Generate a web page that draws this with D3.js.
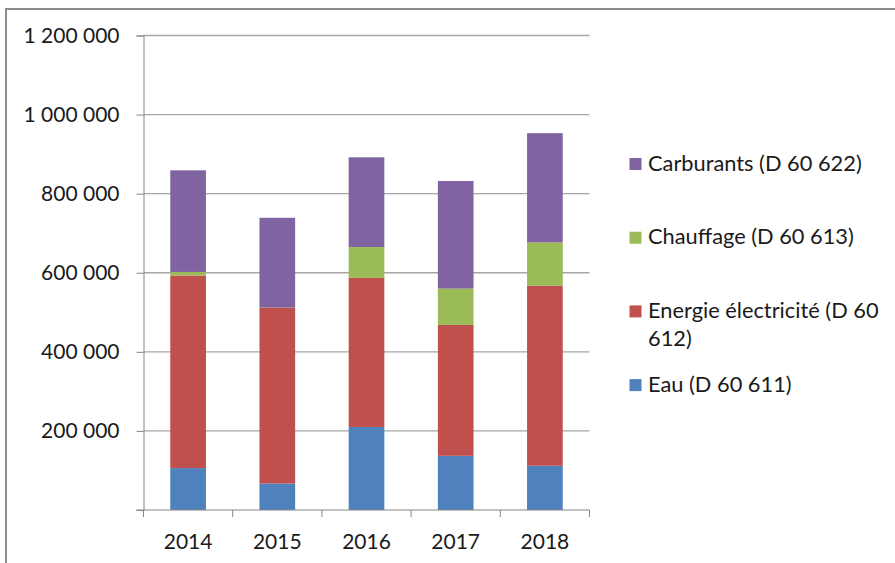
<!DOCTYPE html>
<html lang="fr">
  <head>
    <meta charset="utf-8">
    <title>Dépenses énergie 2014-2018</title>
    <script src="https://d3js.org/d3.v7.min.js"></script>
    <style>
      body { margin: 0; background: #fff; }
      svg text { font-family: Lato, "Open Sans", sans-serif; fill: #1a1a1a; }
    </style>
  </head>
  <body>
    <svg></svg>

    <script>
    // Données
    const annees = ['2014', '2015', '2016', '2017', '2018']
    const eau = [106000, 67000, 210000, 137000, 112000]
    const electricite = [487000, 445000, 377000, 331000, 455000]
    const chauffage = [9000, 0, 78000, 92000, 110000]
    const carburants = [257000, 227000, 227000, 272000, 276000]
    const yTicks = [0, 200000, 400000, 600000, 800000, 1000000, 1200000]

    const series = [
      { nom: 'Eau (D 60 611)', valeurs: eau, couleur: '#4f81bd' },
      { nom: 'Energie électricité (D 60 612)', valeurs: electricite, couleur: '#c0504d' },
      { nom: 'Chauffage (D 60 613)', valeurs: chauffage, couleur: '#9bbb59' },
      { nom: 'Carburants (D 60 622)', valeurs: carburants, couleur: '#8064a2' }
    ]

    const W = 895, H = 563
    const svg = d3.select('svg')
      .attr('width', W)
      .attr('height', H)

    // cadre du graphique
    svg.append('rect')
      .attr('x', 6).attr('y', 9)
      .attr('width', W + 10).attr('height', H + 10)
      .attr('fill', 'none')
      .attr('stroke', '#8c8c8c')
      .attr('stroke-width', 2)

    const x = d3.scaleBand()
      .domain(annees)
      .range([143.5, 589.5])
      .paddingInner(0.6)
      .paddingOuter(0.3)

    const y = d3.scaleLinear()
      .domain([0, 1200000])
      .range([510, 35.5])

    const fr = d3.formatLocale({ decimal: ',', thousands: ' ', grouping: [3], currency: ['', ''] })
    const fmt = fr.format(',')

    // quadrillage
    svg.append('g')
      .selectAll('line')
      .data(yTicks.slice(1))
      .join('line')
        .attr('x1', 143.5).attr('x2', 589.5)
        .attr('y1', d => y(d)).attr('y2', d => y(d))
        .attr('stroke', '#a6a6a6')
        .attr('stroke-width', 1.3)

    // empilement
    const table = annees.map((a, i) => {
      const row = { annee: a }
      series.forEach(s => { row[s.nom] = s.valeurs[i] })
      return row
    })
    const stack = d3.stack().keys(series.map(s => s.nom))(table)

    svg.append('g')
      .selectAll('g')
      .data(stack)
      .join('g')
        .attr('fill', (d, i) => series[i].couleur)
      .selectAll('rect')
      .data(d => d)
      .join('rect')
        .attr('x', d => x(d.data.annee))
        .attr('width', x.bandwidth())
        .attr('y', d => y(d[1]))
        .attr('height', d => y(d[0]) - y(d[1]))

    // axe Y (pas d'étiquette pour 0, comme dans l'original)
    const yAxis = svg.append('g')
      .attr('transform', 'translate(143.5,0)')
      .call(d3.axisLeft(y).tickValues(yTicks)
        .tickFormat(d => d === 0 ? '' : fmt(d))
        .tickSize(7).tickPadding(17))
    yAxis.select('.domain').attr('stroke', '#868686')
    yAxis.selectAll('.tick line').attr('stroke', '#868686')
    yAxis.selectAll('text')
      .attr('font-size', 21)
      .style('font-family', 'Lato, sans-serif')
      .attr('fill', '#1a1a1a')

    // axe X
    const bornes = annees.map(a => x(a) - x.step() * x.paddingInner() / 2)
    bornes.push(589.5)
    const xAxis = svg.append('g')
      .attr('transform', 'translate(0,510)')
    xAxis.append('line')
      .attr('x1', 136.5).attr('x2', 589.5)
      .attr('stroke', '#868686')
    xAxis.selectAll('line.tk')
      .data(bornes)
      .join('line')
        .attr('class', 'tk')
        .attr('x1', d => d).attr('x2', d => d)
        .attr('y1', 0).attr('y2', 7)
        .attr('stroke', '#868686')
    xAxis.selectAll('text')
      .data(annees)
      .join('text')
        .attr('x', d => x(d) + x.bandwidth() / 2)
        .attr('y', 39)
        .attr('text-anchor', 'middle')
        .attr('font-size', 21)
        .text(d => d)

    // légende
    const legende = series.slice().reverse()
    const lg = svg.append('g')
    legende.forEach((s, i) => {
      const by = 170.5 + i * 73.7
      lg.append('rect')
        .attr('x', 629.5).attr('y', by - 12.5)
        .attr('width', 12).attr('height', 12)
        .attr('fill', s.couleur)
      const t = lg.append('text')
        .attr('x', 648)
        .attr('y', by)
        .attr('font-size', 21.8)
      // retour à la ligne comme dans Excel
      const mots = s.nom.split(' ')
      let ligne = []
      let ts = t.append('tspan').attr('x', 648).attr('dy', 0)
      mots.forEach(m => {
        ligne.push(m)
        ts.text(ligne.join(' '))
        if (ts.node().getComputedTextLength() > 250 && ligne.length > 1) {
          ligne.pop()
          ts.text(ligne.join(' '))
          ligne = [m]
          ts = t.append('tspan').attr('x', 648).attr('dy', 28).text(m)
        }
      })
    })
  </script>
  </body>
</html>
